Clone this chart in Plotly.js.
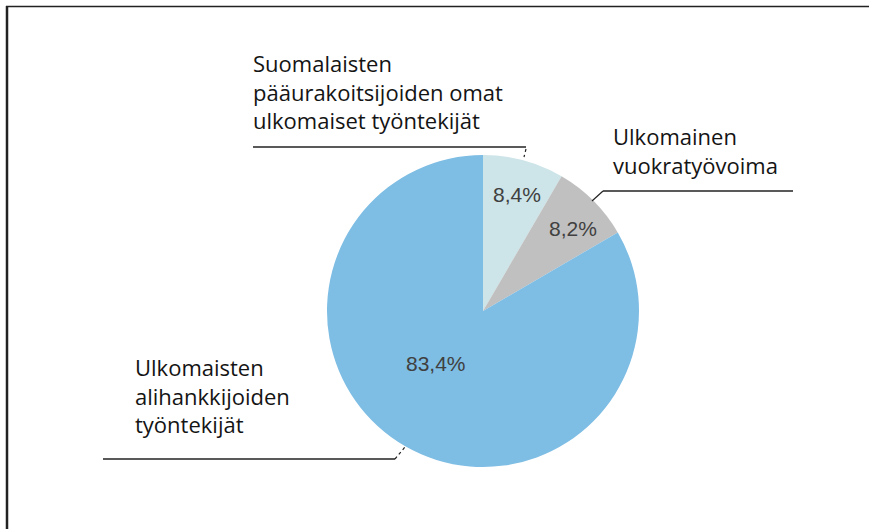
<!DOCTYPE html>
<html>
<head>
<meta charset="utf-8">
<script src="https://cdn.plot.ly/plotly-3.0.1.min.js"></script>
<style>html,body{margin:0;padding:0;background:#fff;}#chart{width:869px;height:529px;}</style>
</head>
<body>
<div id="chart"></div>
<script>
// Data
const categories = [
  "Suomalaisten<br>pääurakoitsijoiden omat<br>ulkomaiset työntekijät",
  "Ulkomainen<br>vuokratyövoima",
  "Ulkomaisten<br>alihankkijoiden<br>työntekijät"
];
const values = [8.4, 8.2, 83.4];
const colors = ["#cde4e8", "#c0c0c0", "#7ebde4"];

// Layout helpers (pixel-based)
const W = 869, H = 529;
const cx = 483, cy = 311, r = 156;

const fmt = v => v.toFixed(1).replace('.', ',') + '%';

const pieTrace = {
  type: 'pie',
  values: values,
  labels: categories,
  marker: {colors: colors, line: {width: 0}},
  sort: false,
  direction: 'clockwise',
  rotation: 0,
  textinfo: 'none',
  hoverinfo: 'skip',
  showlegend: false,
  domain: {
    x: [(cx - r) / W, (cx + r) / W],
    y: [1 - (cy + r) / H, 1 - (cy - r) / H]
  }
};
const dummy = {type: 'scatter', x: [], y: [], showlegend: false, hoverinfo: 'skip'};

const labelFont = {family: 'Open Sans, sans-serif', size: 22, color: '#141414'};
const pctFont = {family: 'Liberation Sans, Arial, sans-serif', size: 21, color: '#404040'};

const labelPos = [[252, 47], [612, 120], [134, 351]];
const pctPos = [[517, 194], [573, 228], [436, 363]];

const annotations = [];
categories.forEach((c, i) => {
  annotations.push({
    xref: 'x', yref: 'y', x: labelPos[i][0], y: labelPos[i][1],
    xanchor: 'left', yanchor: 'top', align: 'left', showarrow: false,
    text: c, font: labelFont, borderpad: 0
  });
  annotations.push({
    xref: 'x', yref: 'y', x: pctPos[i][0], y: pctPos[i][1],
    xanchor: 'center', yanchor: 'middle', showarrow: false,
    text: fmt(values[i]), font: pctFont, borderpad: 0
  });
});

const ln = (x0, y0, x1, y1, w, dash) => ({
  type: 'line', xref: 'x', yref: 'y', x0, y0, x1, y1,
  line: {color: '#222', width: w || 1.3, dash: dash || 'solid'}
});

const shapes = [
  // frame (top and left)
  ln(6, 6.5, 869, 6.5, 1.6),
  ln(7, 6, 7, 529, 2.5),
  // leader lines
  ln(253, 147, 526, 147, 1.3),
  ln(526, 149, 524, 157, 1.2, 'dot'),
  ln(603, 191, 793, 191, 1.3),
  ln(603, 191, 592, 201, 1.2),
  ln(103, 459, 395, 459, 1.3),
  ln(395, 459, 405, 447, 1.2, 'dot')
];

const layout = {
  width: W, height: H,
  margin: {l: 0, r: 0, t: 0, b: 0, pad: 0},
  paper_bgcolor: '#fff', plot_bgcolor: 'rgba(0,0,0,0)',
  showlegend: false,
  xaxis: {range: [0, W], visible: false, fixedrange: true},
  yaxis: {range: [H, 0], visible: false, fixedrange: true},
  annotations: annotations,
  shapes: shapes
};

Plotly.newPlot('chart', [pieTrace, dummy], layout, {staticPlot: true, displayModeBar: false});
</script>
</body>
</html>
